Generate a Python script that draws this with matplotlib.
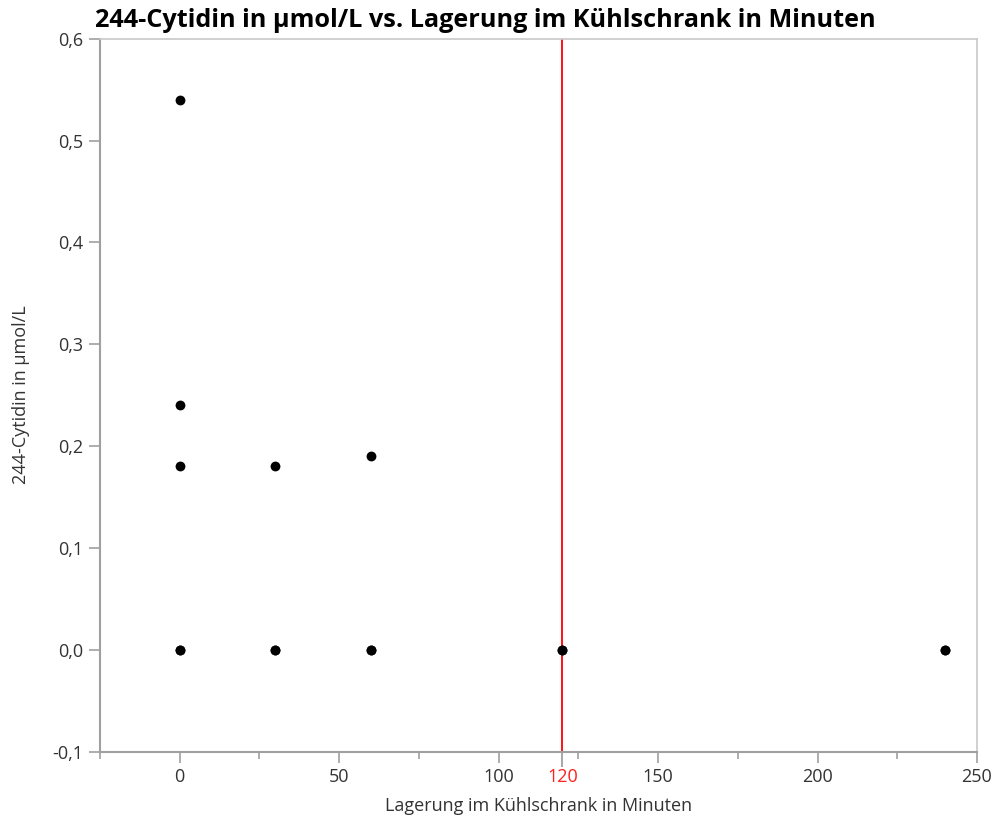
import matplotlib
import matplotlib.pyplot as plt
from matplotlib.ticker import FuncFormatter, MultipleLocator

matplotlib.use('Agg')

plt.rcParams['font.family'] = ['Open Sans', 'DejaVu Sans']

# Lagerzeit (Minuten) und gemessene Konzentration
storage_minutes = [0, 0, 0, 0, 0, 30, 30, 30, 60, 60, 60, 120, 120, 240, 240]
cytidin_umol = [0.54, 0.24, 0.18, 0.0, 0.0, 0.18, 0.0, 0.0, 0.19, 0.0, 0.0,
                0.0, 0.0, 0.0, 0.0]

x_major = [0, 50, 100, 120, 150, 200, 250]
y_major = [-0.1, 0.0, 0.1, 0.2, 0.3, 0.4, 0.5, 0.6]
ref_minutes = 120

TITLE = "244-Cytidin in µmol/L vs. Lagerung im Kühlschrank in Minuten"
XLABEL = "Lagerung im Kühlschrank in Minuten"
YLABEL = "244-Cytidin in µmol/L"

fig = plt.figure(figsize=(10, 8.25), dpi=100)
ax = fig.add_axes([0.100, 0.089, 0.877, 0.864])

ax.scatter(storage_minutes, cytidin_umol, s=50, color='black', zorder=3,
           linewidths=0)
ax.axvline(ref_minutes, color='#ff0000', lw=1.3, zorder=2)

ax.set_xlim(-25, 250)
ax.set_ylim(-0.1, 0.6)
ax.set_xticks(x_major)
ax.xaxis.set_minor_locator(MultipleLocator(25))
ax.set_yticks(y_major)
ax.yaxis.set_major_formatter(
    FuncFormatter(lambda v, _: f"{v:.1f}".replace('.', ',').replace('-0,0', '0,0')))

ax.tick_params(axis='both', which='major', length=8, width=1.2,
               color='#a0a0a0', labelsize=13, labelcolor='#333333', pad=4)
ax.tick_params(axis='x', which='minor', length=5, width=1.2, color='#a0a0a0')

# the reference line gets its own red tick and label
ref_tick = ax.xaxis.get_major_ticks()[x_major.index(ref_minutes)]
ref_tick.tick1line.set_color('#ff0000')
ref_tick.tick1line.set_markeredgewidth(1.3)
ref_tick.tick1line.set_markersize(11)
ref_tick.label1.set_color('#ff2020')

for side in ['left', 'bottom']:
    ax.spines[side].set_color('#a0a0a0')
    ax.spines[side].set_linewidth(1.5)
for side in ['top', 'right']:
    ax.spines[side].set_color('#c8c8c8')
    ax.spines[side].set_linewidth(1.2)

ax.set_xlabel(XLABEL, fontsize=13, color='#333333', labelpad=8)
ax.set_ylabel(YLABEL, fontsize=13, color='#333333', labelpad=16)
fig.text(0.095, 0.960, TITLE, fontsize=18.2, fontweight='bold', ha='left',
         va='bottom', color='black')

fig.savefig('out.png', dpi=100)
plt.close(fig)
